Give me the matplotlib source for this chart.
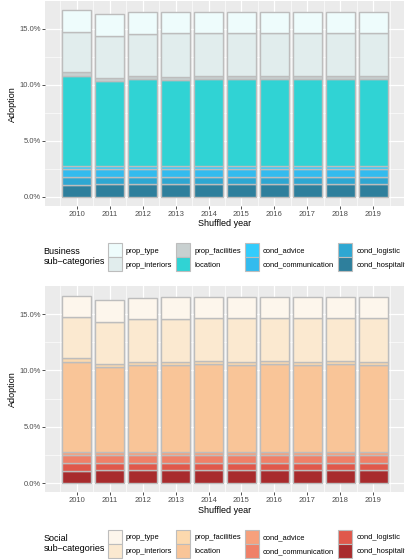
"""
Stacked adoption by sub-category per shuffled year (business and social panels).
"""
import numpy as np
import matplotlib
matplotlib.use("Agg")
import matplotlib.pyplot as plt
from matplotlib.patches import Patch
from matplotlib.ticker import FixedLocator

plt.rcParams['font.family'] = ['Liberation Sans', 'DejaVu Sans']

years = [2010, 2011, 2012, 2013, 2014, 2015, 2016, 2017, 2018, 2019]

# adoption in percent, one list per sub-category (top of stack first)
sub_categories = ['prop_type', 'prop_interiors', 'prop_facilities', 'location',
                  'cond_advice', 'cond_communication', 'cond_logistic', 'cond_hospitality']
prop_type = [1.90, 1.93, 1.90, 1.90, 1.86, 1.89, 1.86, 1.89, 1.86, 1.89]
prop_interiors = [3.63, 3.78, 3.81, 3.87, 3.84, 3.84, 3.84, 3.87, 3.84, 3.84]
prop_facilities = [0.35, 0.27, 0.27, 0.27, 0.27, 0.27, 0.27, 0.26, 0.27, 0.27]
location = [8.01, 7.56, 7.74, 7.71, 7.80, 7.77, 7.80, 7.75, 7.80, 7.77]
cond_advice = [0.27, 0.27, 0.27, 0.27, 0.27, 0.27, 0.27, 0.27, 0.27, 0.27]
cond_communication = [0.73, 0.73, 0.73, 0.73, 0.73, 0.73, 0.73, 0.73, 0.73, 0.73]
cond_logistic = [0.67, 0.55, 0.55, 0.55, 0.55, 0.55, 0.55, 0.55, 0.55, 0.55]
cond_hospitality = [1.07, 1.19, 1.19, 1.19, 1.19, 1.19, 1.19, 1.19, 1.19, 1.19]

series = [prop_type, prop_interiors, prop_facilities, location,
          cond_advice, cond_communication, cond_logistic, cond_hospitality]

business_colors = ['#eefcfc', '#e1eded', '#c8d0d0', '#30d3d4',
                   '#33ccfc', '#33bbee', '#2ea7d2', '#2e7f9c']
social_colors = ['#fdf6ec', '#fbe9d0', '#fcd9ae', '#f9c598',
                 '#f6a07c', '#ef8068', '#e0584b', '#a82b2d']

W, H = 406, 560
EDGE = '#bdbdbd'


def draw_panel(rect, colors, title, legend_top):
    ax = fig.add_axes(rect)
    ax.set_facecolor('#ebebeb')
    x = np.array(years)
    bottom = np.zeros(len(years))
    # stack from the bottom of the legend upwards
    for vals, col in zip(series[::-1], colors[::-1]):
        ax.bar(x, vals, width=0.9, bottom=bottom, color=col,
               edgecolor=EDGE, linewidth=1.0, zorder=3)
        bottom += np.array(vals)
    top = bottom.max()
    ax.set_xlim(2009.55 - 0.495, 2019.45 + 0.495)
    ax.set_ylim(-0.05 * top, 1.05 * top)
    ax.set_xticks(years)
    ax.set_xticklabels([str(y) for y in years])
    ax.set_yticks([0, 5, 10, 15])
    ax.set_yticklabels(['0.0%', '5.0%', '10.0%', '15.0%'])
    ax.xaxis.set_minor_locator(FixedLocator([y + 0.5 for y in [2009] + years]))
    ax.yaxis.set_minor_locator(FixedLocator([2.5, 7.5, 12.5]))
    ax.grid(which='major', color='white', linewidth=0.9, zorder=0)
    ax.grid(which='minor', color='white', linewidth=0.45, zorder=0)
    ax.set_axisbelow(True)
    for s in ax.spines.values():
        s.set_visible(False)
    ax.tick_params(which='major', length=2, width=0.6, color='#333333',
                   labelsize=5.5, labelcolor='#4d4d4d', pad=1.2)
    ax.tick_params(which='minor', length=0)
    ax.set_xlabel('Shuffled year', fontsize=6.5, color='black')
    ax.set_ylabel('Adoption', fontsize=6.5, color='black')
    ax.xaxis.set_label_coords(0.5, -0.086)
    ax.xaxis.label.set_va('center')
    ax.yaxis.set_label_coords(-0.093, 0.5)
    ax.yaxis.label.set_va('center')

    handles = [Patch(facecolor=c, edgecolor=EDGE, linewidth=0.8) for c in colors]
    fig.legend(handles, sub_categories, loc='upper left',
               bbox_to_anchor=(107.7 / W, 1 - legend_top / H),
               bbox_transform=fig.transFigure, ncol=4, frameon=False,
               fontsize=5.4, borderpad=0, borderaxespad=0,
               handlelength=1.87, handleheight=2.5, handletextpad=0.57,
               columnspacing=0.5, labelspacing=0)
    fig.text(43.3 / W, 1 - (legend_top + 13.5) / H, title + '\nsub\u2013categories',
             fontsize=6.5, ha='left', va='center', linespacing=1.1)
    return ax


fig = plt.figure(figsize=(W / 100, H / 100), dpi=100)

draw_panel([45.5 / W, (H - 206.3) / H, 359 / W, 205.3 / H],
           business_colors, 'Business', 243.3)
draw_panel([45.5 / W, (H - 492.4) / H, 359 / W, 205.9 / H],
           social_colors, 'Social', 530.0)

fig.savefig('out.png', dpi=100)
